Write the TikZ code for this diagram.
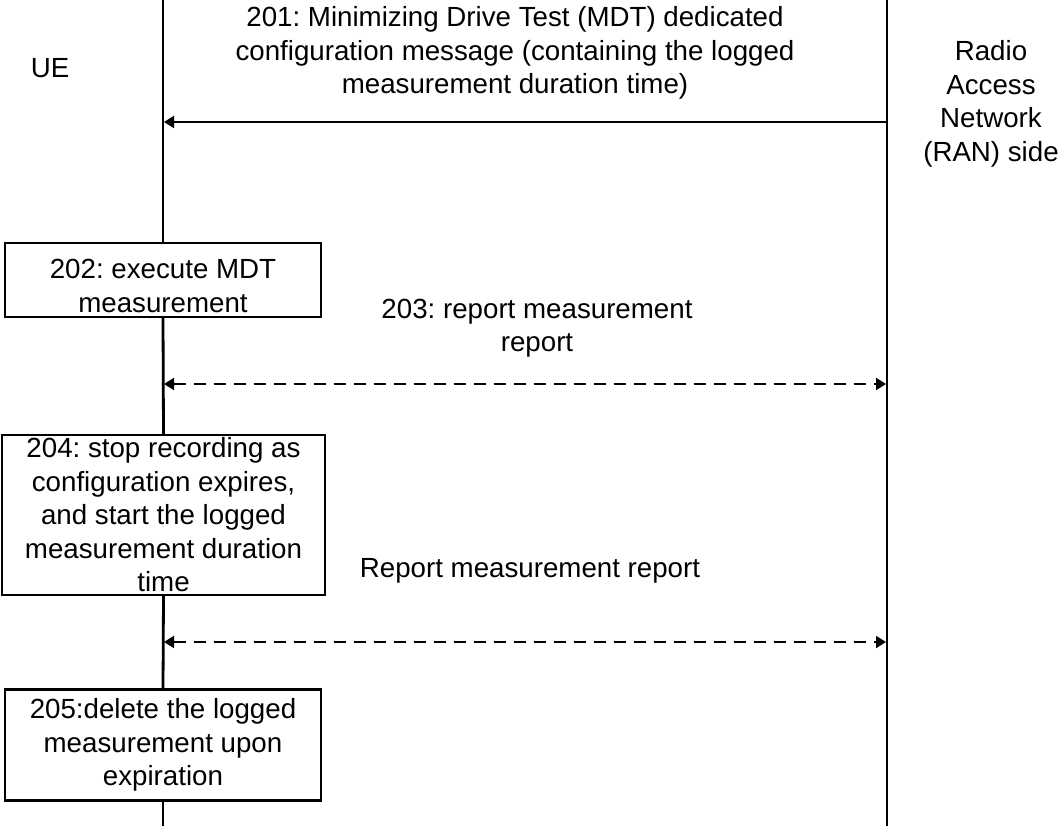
\documentclass[tikz,border=0pt]{standalone}
\usepackage{fontspec}
\setmainfont{Liberation Sans}
\usetikzlibrary{arrows.meta}
\tikzset{
  lbl/.style={inner sep=0pt, align=center, font=\fontsize{27.7}{33.5}\selectfont\frenchspacing},
  stepbox/.style={draw, line width=2.4pt, inner sep=0pt, align=center, font=\fontsize{27.7}{33.5}\selectfont\frenchspacing},
  life/.style={line width=2.8pt},
  tip/.tip={Triangle[length=10pt,width=12pt]},
  msg/.style={line width=2pt, -tip},
  dmsg/.style={line width=2pt, dash pattern=on 12pt off 8pt, tip-tip}
}
\begin{document}
\begin{tikzpicture}[x=1pt,y=-1pt]
\useasboundingbox (0,0) rectangle (1059,826);
% lifeline ends
\coordinate (ue0) at (163,0);
\coordinate (ue1) at (163,826);
\coordinate (ran0) at (887,0);
\coordinate (ran1) at (887,826);
% labels
\node[lbl] (ue) at (50,68) {UE};
\node[lbl] (ran) at (991,104) {Radio\\Access\\Network\\(RAN) side};
% boxes
\node[stepbox, minimum width=316pt, minimum height=74pt] (b202) at (163,280) {};
\node[lbl] (t202) at (163,286) {202: execute MDT\\measurement};
\node[stepbox, minimum width=323pt, minimum height=160pt] (b204) at (163.5,515) {204: stop recording as\\configuration expires,\\and start the logged\\measurement duration\\time};
\node[stepbox, minimum width=316pt, minimum height=111pt] (b205) at (163,745) {205:delete the logged\\measurement upon\\expiration};
% lifelines
\draw[life] (ue0) -- (b202.north);
\draw[life] (b202.south) -- (b204.north);
\draw[life] (b204.south) -- (b205.north);
\draw[life] (b205.south) -- (ue1);
\draw[life] (ran0) -- (ran1);
% messages
\coordinate (m1r) at (886,122);
\coordinate (m1l) at (164,122);
\draw[msg] (m1r) -- (m1l);
\node[lbl] (t201) at (515,53) {201: Minimizing Drive Test (MDT) dedicated\\configuration message (containing the logged\\measurement duration time)};
\coordinate (m2l) at (164,384);
\coordinate (m2r) at (886,384);
\draw[dmsg] (m2l) -- (m2r);
\node[lbl] (t203) at (537,328) {203: report measurement\\report};
\coordinate (m3l) at (164,642);
\coordinate (m3r) at (886,642);
\draw[dmsg] (m3l) -- (m3r);
\node[lbl] (t3) at (530,571) {Report measurement report};
\end{tikzpicture}
\end{document}
